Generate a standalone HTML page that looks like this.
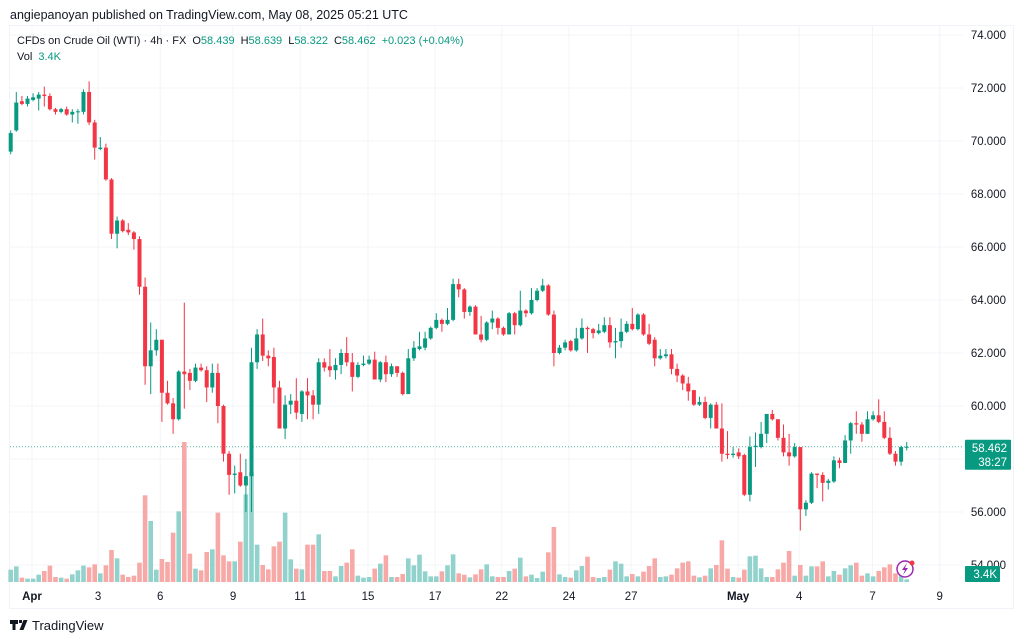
<!DOCTYPE html>
<html><head><meta charset="utf-8">
<style>
body{margin:0;background:#fff;width:1024px;height:641px;overflow:hidden;font-family:"Liberation Sans","DejaVu Sans",sans-serif;}
svg{position:absolute;left:0;top:0}
</style></head>
<body>
<svg id="chart" width="1024" height="641">
  <text x="10" y="19" font-size="12.5" fill="#131722">angiepanoyan published on TradingView.com, May 08, 2025 05:21 UTC</text>
  <rect x="9.5" y="25.5" width="1004" height="583" fill="none" stroke="#f0f3fa"/>
  <g id="grid"></g>
  <g id="vol"></g>
  <g id="candles"></g>
  <g id="axes"></g>
  <text x="17" y="44" font-size="11" fill="#131722">CFDs on Crude Oil (WTI) · 4h · FX <tspan dx="3">O</tspan><tspan fill="#089981">58.439</tspan><tspan dx="6">H</tspan><tspan fill="#089981">58.639</tspan><tspan dx="6">L</tspan><tspan fill="#089981">58.322</tspan><tspan dx="6">C</tspan><tspan fill="#089981">58.462</tspan><tspan dx="6" fill="#089981">+0.023 (+0.04%)</tspan></text>
  <text x="17" y="60" font-size="11" fill="#131722">Vol <tspan dx="3" fill="#089981">3.4K</tspan></text>
  <g>
    <path d="M10 620h8v4h-2.5v6h-3v-6H10z M19 620h3v3h-3z M23.5 620h4l-4 10h-4z" fill="#131722"/>
    <text x="32" y="630" font-size="13" fill="#131722">TradingView</text>
  </g>
</svg>
<script>
const opens=[69.6,70.4,71.5,71.4,71.55,71.6,71.75,71.7,71.2,71.1,71.2,71.0,71.1,71.1,71.85,70.7,69.7,69.75,68.55,66.5,67.0,66.65,66.55,66.3,64.5,61.5,62.1,62.5,60.5,60.1,59.5,61.3,61.25,60.95,61.45,61.35,60.7,61.25,60.0,58.2,57.4,57.5,57.0,57.35,61.65,62.7,61.9,61.85,60.7,59.15,60.05,60.2,59.7,60.55,60.4,60.05,61.65,61.5,61.35,61.55,62.0,61.65,61.1,61.55,61.6,61.75,61.0,61.65,61.2,61.5,61.25,60.45,61.8,62.15,62.2,62.55,62.95,63.25,63.1,63.25,64.6,64.4,63.55,63.75,62.7,62.5,63.15,63.3,62.95,62.7,63.5,63.05,63.6,63.5,64.0,64.35,64.55,63.45,62.0,62.2,62.45,62.1,62.55,62.95,62.9,62.75,62.8,63.05,62.4,62.45,62.8,63.1,62.9,63.45,62.7,62.5,61.8,61.88,61.95,61.4,61.15,60.85,60.6,60.05,60.15,59.55,60.05,59.15,58.2,58.15,58.25,58.15,56.65,58.45,58.45,58.95,59.7,59.5,58.8,58.25,58.1,58.45,56.1,56.35,57.45,57.4,57.1,57.15,57.95,57.85,58.7,59.35,59.3,58.95,59.5,59.65,59.4,58.8,58.2,57.9,58.439];
const highs=[70.4,71.85,71.7,71.7,71.8,71.85,72.05,71.8,71.25,71.25,71.3,71.2,71.2,71.95,72.25,70.8,70.15,69.9,68.6,67.15,67.05,66.9,66.6,66.4,64.85,63.15,62.9,62.5,60.95,60.3,61.35,63.9,61.4,61.6,61.6,61.5,61.6,61.6,60.05,58.3,57.75,58.2,58.0,62.2,62.9,63.3,62.1,62.2,60.95,60.4,60.45,61.05,60.6,61.05,60.6,61.8,61.8,62.15,61.8,62.15,62.6,62.0,61.65,61.9,61.9,62.05,61.7,61.9,61.6,61.5,61.3,62.15,62.45,62.8,62.8,63.0,63.5,63.3,63.7,64.8,64.8,64.45,63.8,63.8,63.4,63.2,63.6,63.35,63.0,63.55,63.55,64.35,63.65,64.45,64.45,64.8,64.6,63.6,62.3,62.5,62.5,62.95,63.3,63.0,62.95,63.1,63.35,63.35,62.95,63.3,63.2,63.7,63.5,63.5,63.1,62.6,62.15,62.15,62.15,61.6,61.2,61.1,60.6,60.35,60.35,60.1,60.15,60.1,59.05,58.45,58.4,58.2,58.85,59.0,59.4,59.7,59.85,59.5,59.3,58.95,58.6,58.45,56.45,57.5,57.45,57.5,57.25,58.1,58.05,58.9,59.4,59.8,59.4,59.8,59.8,60.25,59.8,59.2,58.3,58.5,58.639];
const lows=[69.5,70.35,71.35,71.3,71.5,71.15,71.3,71.15,71.0,71.05,70.95,70.7,70.65,71.0,70.6,69.3,69.65,68.5,66.3,65.95,66.55,66.45,65.9,64.2,60.8,60.45,61.9,59.4,60.05,58.95,59.45,59.9,60.6,60.9,61.3,60.15,60.5,59.35,57.9,56.65,56.7,56.95,56.0,56.0,61.4,61.7,61.5,60.1,59.15,58.75,59.7,59.5,59.4,59.5,59.5,59.7,61.3,61.1,61.0,61.2,61.5,60.55,61.05,61.5,61.55,61.0,60.9,60.9,61.1,61.1,60.4,60.45,61.7,62.1,62.1,62.5,62.9,62.8,63.05,63.2,64.1,63.3,63.4,62.7,62.4,62.45,62.9,62.7,62.65,62.7,62.7,63.0,63.35,63.45,63.95,64.3,63.4,61.5,61.95,62.1,62.05,62.05,62.5,62.0,62.55,62.7,62.75,62.2,61.8,62.2,62.75,62.85,62.85,62.65,62.3,61.5,61.75,61.8,61.2,60.9,60.6,60.2,60.0,60.0,59.5,59.15,59.15,57.9,58.0,58.05,58.0,56.6,56.4,57.7,58.4,58.6,59.45,58.7,58.1,57.75,58.05,55.3,55.85,56.3,56.9,56.4,56.85,57.1,57.65,57.85,58.2,58.95,58.65,58.95,59.45,59.35,58.75,58.15,57.75,57.75,58.322];
const closes=[70.3,71.45,71.4,71.6,71.65,71.75,71.7,71.2,71.1,71.2,71.0,71.1,71.12,71.85,70.7,69.75,69.75,68.55,66.5,67.0,66.6,66.55,66.3,64.5,61.5,62.1,62.5,60.5,60.1,59.5,61.3,61.2,60.95,61.45,61.35,60.7,61.25,60.0,58.2,57.4,57.45,57.0,57.35,61.65,62.7,61.9,61.8,60.7,59.15,60.05,60.2,59.75,60.55,60.4,60.05,61.65,61.45,61.35,61.55,62.0,61.65,61.1,61.55,61.6,61.75,61.0,61.65,61.2,61.5,61.25,60.45,61.8,62.2,62.25,62.55,62.95,63.25,63.1,63.25,64.6,64.4,63.55,63.75,62.7,62.5,63.15,63.3,62.95,62.7,63.5,63.05,63.6,63.5,64.0,64.35,64.55,63.45,62.0,62.2,62.4,62.1,62.55,62.95,62.9,62.75,62.85,63.05,62.4,62.45,62.8,63.1,62.9,63.45,62.7,62.35,61.8,61.9,61.95,61.4,61.15,60.85,60.55,60.05,60.15,59.55,60.05,59.15,58.2,58.15,58.2,58.1,56.65,58.45,58.5,58.95,59.7,59.5,58.8,58.25,58.1,58.45,56.1,56.35,57.45,57.4,57.1,57.18,57.95,57.85,58.7,59.35,59.3,58.95,59.5,59.65,59.4,58.8,58.2,57.9,58.45,58.462];
const volumes=[37,47,13,10,10,22,33,49,15,13,10,23,35,49,44,53,26,50,96,71,22,15,19,58,260,183,37,69,60,148,212,420,85,40,35,90,98,208,80,62,62,121,263,330,112,51,38,107,121,208,68,40,38,112,112,143,33,33,17,48,58,98,19,13,15,40,55,80,15,15,24,71,50,82,32,17,17,32,50,83,26,22,14,23,38,53,17,15,15,33,40,73,17,22,12,31,89,165,23,15,13,35,48,76,15,12,15,37,62,55,17,24,17,31,48,71,15,17,22,41,58,62,19,14,19,41,51,125,40,15,13,37,77,79,41,15,15,38,58,93,19,51,19,47,47,62,17,33,22,41,50,58,19,26,17,33,44,53,26,20,8];
const priceTicks=[74,72,70,68,66,64,62,60,58,56,54];
const dateLabels=["Apr","3","6","9","11","15","17","22","24","27","May","4","7","9"];
const dateIndex=[3.8,15.6,26.7,39.7,51.7,63.8,75.8,87.7,99.7,110.8,129.9,140.8,153.9,165.9];

const NS="http://www.w3.org/2000/svg";
const xOf=i=>10.7+5.6*i;
const yOf=p=>35+(74-p)*26.5;
const volBase=582;
const vh=v=>v*140/420;
function mk(tag,attrs,parent){const e=document.createElementNS(NS,tag);for(const k in attrs)e.setAttribute(k,attrs[k]);parent.appendChild(e);return e;}
const grid=document.getElementById('grid'),cg=document.getElementById('candles'),vg=document.getElementById('vol'),ax=document.getElementById('axes');

priceTicks.forEach(p=>{
  const l=mk('line',{x1:10,x2:963,y1:yOf(p),y2:yOf(p),stroke:'#f3f4f7'},grid);
  
  
  const t=mk('text',{x:1006,y:yOf(p)+4,'font-size':11.5,fill:'#131722','text-anchor':'end'},ax);
  t.textContent=p.toFixed(3);
  
  
});
dateLabels.forEach((d,k)=>{
  const x=xOf(dateIndex[k]);
  const l=mk('line',{x1:x,x2:x,y1:26,y2:582,stroke:'#f3f4f7'},grid);
  
  
  const t=mk('text',{x:x,y:600,'font-size':11.5,fill:'#131722','text-anchor':'middle','font-weight':(d==='Apr'||d==='May')?'bold':'normal'},ax);
  t.textContent=d;
  
  
});
volumes.forEach((v,i)=>{
  const up=closes[i]>=opens[i];
  const r=mk('rect',{x:xOf(i)-2.3,y:volBase-vh(v),width:4.6,height:vh(v),fill:up?'#92d2cc':'#f7a9a7'},vg);
  
  
});
const cl=mk('line',{x1:10,x2:963,y1:yOf(closes[closes.length-1]),y2:yOf(closes[closes.length-1]),stroke:'#089981','stroke-dasharray':'1 2','stroke-opacity':0.7},grid);


opens.forEach((o,i)=>{
  const c=closes[i],up=c>=o,col=up?'#089981':'#f23645',x=xOf(i);
  const g=mk('g',{},cg);
  
  
  mk('line',{x1:x,x2:x,y1:yOf(highs[i]),y2:yOf(lows[i]),stroke:col,'stroke-width':1},g);
  const top=yOf(Math.max(o,c)),bot=yOf(Math.min(o,c));
  mk('rect',{x:x-2,y:top,width:4,height:Math.max(1,bot-top),fill:col},g);
});
const py=yOf(closes[closes.length-1]);
const pb=mk('g',{},ax);


mk('rect',{x:965,y:py-7,width:46,height:30,fill:'#089981',rx:1},pb);
const t1=mk('text',{x:1007,y:py+5,'font-size':11.5,fill:'#fff','text-anchor':'end'},pb);t1.textContent='58.462';
const t2=mk('text',{x:1007,y:py+19,'font-size':11.5,fill:'#fff','text-anchor':'end'},pb);t2.textContent='38:27';
const vb=mk('g',{},ax);


mk('rect',{x:965,y:566,width:35,height:16,fill:'#089981',rx:1},vb);
const t3=mk('text',{x:997,y:578,'font-size':11.5,fill:'#fff','text-anchor':'end'},vb);t3.textContent='3.4K';
const li=mk('g',{},ax);


mk('circle',{cx:905,cy:569,r:8,fill:'#fff',stroke:'#9c27b0','stroke-width':1.5},li);
mk('path',{d:'M907 563l-5 7h3l-2 5 5-7h-3z',fill:'#9c27b0'},li);
mk('circle',{cx:912,cy:563,r:2.5,fill:'#f23645'},li);
</script>
</body></html>
